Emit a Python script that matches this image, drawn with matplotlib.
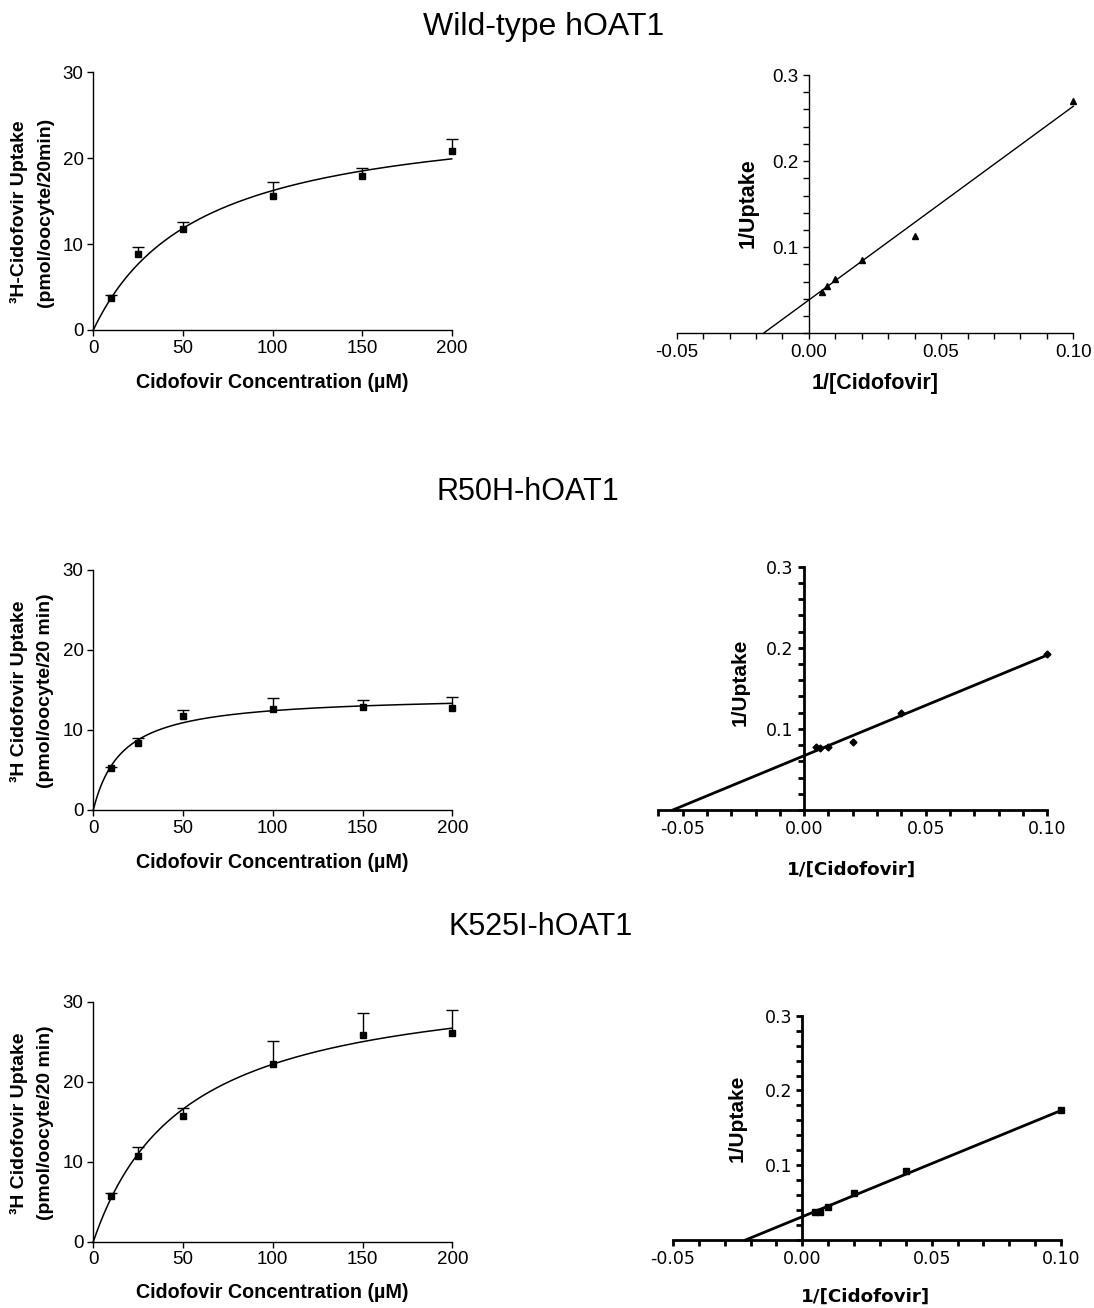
import numpy as np
import matplotlib
matplotlib.use('Agg')
import matplotlib.pyplot as plt
from matplotlib.ticker import MultipleLocator, FixedLocator, FormatStrFormatter

# ---------------- data ----------------
titles = ["Wild-type hOAT1", "R50H-hOAT1", "K525I-hOAT1"]
conc = [10, 25, 50, 100, 150, 200]

wt_uptake = [3.76, 8.8, 11.8, 15.6, 17.9, 20.8]
wt_sem = [0.35, 0.9, 0.8, 1.6, 1.0, 1.4]
r50h_uptake = [5.2, 8.4, 11.8, 12.6, 12.9, 12.7]
r50h_sem = [0.2, 0.6, 0.7, 1.4, 0.9, 1.4]
k525i_uptake = [5.75, 10.75, 15.75, 22.2, 25.8, 26.1]
k525i_sem = [0.3, 1.05, 1.0, 2.9, 2.8, 2.9]

# Michaelis-Menten fit parameters (Vmax, Km)
wt_vmax, wt_km = 25.8, 59.0
r50h_vmax, r50h_km = 14.4, 16.0
k525i_vmax, k525i_km = 33.5, 51.0

inv_conc = [0.005, 0.0067, 0.01, 0.02, 0.04, 0.1]
wt_inv_uptake = [0.0484, 0.0553, 0.0635, 0.0848, 0.1134, 0.2698]
r50h_inv_uptake = [0.0777, 0.0769, 0.0780, 0.0840, 0.1190, 0.1920]
k525i_inv_uptake = [0.0379, 0.0380, 0.0446, 0.0624, 0.0928, 0.1740]

# Lineweaver-Burk fit (intercept, slope)
wt_lb_int, wt_lb_slope = 0.0387, 2.25
r50h_lb_int, r50h_lb_slope = 0.0670, 1.24
k525i_lb_int, k525i_lb_slope = 0.0312, 1.42

left_ylabels = ["³H-Cidofovir Uptake\n(pmol/oocyte/20min)",
                "³H Cidofovir Uptake\n(pmol/oocyte/20 min)",
                "³H Cidofovir Uptake\n(pmol/oocyte/20 min)"]
left_xlabel = "Cidofovir Concentration (µM)"
right_ylabel = "1/Uptake"
right_xlabel = "1/[Cidofovir]"

# ---------------- layout helpers ----------------
W, H = 1094, 1308
fig = plt.figure(figsize=(W / 100, H / 100), dpi=100)
ARIAL = ['Liberation Sans', 'DejaVu Sans']
VERD = ['DejaVu Sans']


def box(x0, x1, ytop, ybot):
    return [x0 / W, 1 - ybot / H, (x1 - x0) / W, (ybot - ytop) / H]


def ftxt(x, y, s, **kw):
    fig.text(x / W, 1 - y / H, s, ha='center', va='center', **kw)


def mm_panel(ax, mean, sem, vmax, km):
    eb = ax.errorbar(conc, mean, yerr=[np.zeros(len(sem)), sem], fmt='s',
                     color='black', ms=4.5, capsize=4, elinewidth=1,
                     capthick=1, clip_on=False, zorder=3)
    caps = eb[1]
    if len(caps) == 2:
        caps[0].set_visible(False)
    for c in caps:
        c.set_clip_on(False)
    for b in eb[2]:
        b.set_clip_on(False)
    xs = np.linspace(0, 200, 400)
    ax.plot(xs, vmax * xs / (km + xs), color='black', lw=1.1, clip_on=False)
    ax.set_xlim(0, 200)
    ax.set_ylim(0, 30)
    for s in ['top', 'right']:
        ax.spines[s].set_visible(False)
    for s in ['left', 'bottom']:
        ax.spines[s].set_linewidth(1)
    ax.set_xticks([0, 50, 100, 150, 200])
    ax.set_yticks([0, 10, 20, 30])
    ax.tick_params(direction='out', length=4, width=1, labelsize=13.5, pad=3)
    for lab in ax.get_xticklabels() + ax.get_yticklabels():
        lab.set_family(ARIAL)


def lb_panel(ax, y, intercept, slope, xlim, marker, ms, lw, font, tsize):
    ax.plot(inv_conc, y, marker, color='black', ms=ms, clip_on=False, zorder=3)
    x0 = -intercept / slope
    ax.plot([x0, 0.1], [0, intercept + slope * 0.1], color='black', lw=lw,
            clip_on=False)
    ax.set_xlim(*xlim)
    ax.set_ylim(0, 0.3)
    for s in ['top', 'right']:
        ax.spines[s].set_visible(False)
    ax.spines['left'].set_position(('data', 0))
    for s in ['left', 'bottom']:
        ax.spines[s].set_linewidth(lw)
    ax.xaxis.set_major_locator(FixedLocator([-0.05, 0.0, 0.05, 0.10]))
    ax.xaxis.set_minor_locator(MultipleLocator(0.01))
    ax.yaxis.set_major_locator(FixedLocator([0.1, 0.2, 0.3]))
    ax.yaxis.set_minor_locator(MultipleLocator(0.02))
    ax.xaxis.set_major_formatter(FormatStrFormatter('%.2f'))
    ax.yaxis.set_major_formatter(FormatStrFormatter('%.1f'))
    ax.tick_params(which='both', direction='out', length=4.5, width=lw,
                   labelsize=tsize, pad=3)
    ax.patch.set_alpha(0)
    for lab in ax.get_xticklabels() + ax.get_yticklabels():
        lab.set_family(font)


# ---------------- left panels ----------------
left_boxes = [box(93.3, 451.7, 72.3, 330), box(93.3, 452.3, 570, 810),
              box(93.3, 452.3, 1001.7, 1241.7)]
means = [wt_uptake, r50h_uptake, k525i_uptake]
sems = [wt_sem, r50h_sem, k525i_sem]
fits = [(wt_vmax, wt_km), (r50h_vmax, r50h_km), (k525i_vmax, k525i_km)]
xlab_y = [383, 862, 1292]
ylab_y = [212, 691, 1123]
for i in range(3):
    ax = fig.add_axes(left_boxes[i])
    mm_panel(ax, means[i], sems[i], *fits[i])
    ftxt(272.5, xlab_y[i], left_xlabel, family=ARIAL, fontweight='bold',
         fontsize=14.2)
    ftxt(32, ylab_y[i], left_ylabels[i], family=ARIAL, fontweight='bold',
         fontsize=14, rotation=90, linespacing=1.7)

# ---------------- right panels ----------------
ax = fig.add_axes(box(676.7, 1073.3, 75, 333.3))
lb_panel(ax, wt_inv_uptake, wt_lb_int, wt_lb_slope, (-0.05, 0.10), '^', 5,
         1.0, ARIAL, 13.5)
ftxt(748, 203, right_ylabel, family=ARIAL, fontweight='bold', fontsize=15.5,
     rotation=90)
ftxt(875, 383, right_xlabel, family=ARIAL, fontweight='bold', fontsize=15.5)

ax = fig.add_axes(box(658.3, 1047.3, 566.7, 810))
lb_panel(ax, r50h_inv_uptake, r50h_lb_int, r50h_lb_slope, (-0.06, 0.10), 'D',
         3.5, 2.0, VERD, 12.5)
ftxt(740, 682, right_ylabel, family=ARIAL, fontweight='bold', fontsize=15,
     rotation=90)
ftxt(852, 870, right_xlabel, family=VERD, fontweight='bold', fontsize=13.2)

ax = fig.add_axes(box(673, 1061, 1015.7, 1240))
lb_panel(ax, k525i_inv_uptake, k525i_lb_int, k525i_lb_slope, (-0.05, 0.10),
         's', 4.5, 2.0, VERD, 12.5)
ftxt(737, 1118, right_ylabel, family=ARIAL, fontweight='bold', fontsize=15,
     rotation=90)
ftxt(866, 1297, right_xlabel, family=VERD, fontweight='bold', fontsize=13.2)

# ---------------- titles ----------------
ftxt(544, 27, titles[0], family=ARIAL, fontsize=23)
ftxt(528, 492, titles[1], family=ARIAL, fontsize=22)
ftxt(541, 927, titles[2], family=ARIAL, fontsize=22)

fig.savefig('out.png', dpi=100)
